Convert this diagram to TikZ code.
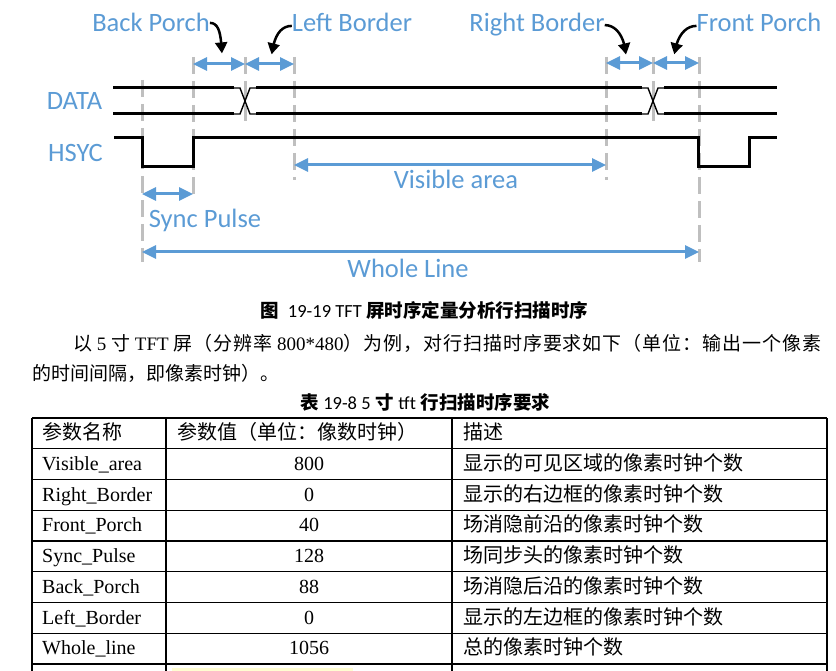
\documentclass[tikz,border=0pt]{standalone}
\usepackage{fontspec}
\setmainfont{Liberation Serif}
\newfontfamily\calibri{Carlito}
\newfontfamily\cjk{Noto Sans CJK SC}
\newfontfamily\cjkspread{Noto Sans CJK SC}[LetterSpace=5]
\usetikzlibrary{arrows.meta,bending}
\definecolor{lblblue}{HTML}{5B9BD5}
\definecolor{tickgray}{HTML}{BFBFBF}
\newcommand{\zh}[1]{{\cjk #1}}
\newcommand{\zhs}[1]{{\cjkspread #1}}
\newcommand{\zhb}[1]{{\cjk\bfseries #1}}

\begin{document}
\begin{tikzpicture}[x=1pt,y=-1pt]
        % Define styles for labels and lines
        \tikzset{
            lbl/.style={font=\calibri\fontsize{26.5}{26.5}\selectfont, text=lblblue, inner sep=0pt, anchor=base},
            signal/.style={line width=3pt, black},
            xover/.style={line width=1.4pt, black},
            tick/.style={tickgray, line width=3pt, dash pattern=on 17pt off 7pt},
            dim/.style={lblblue, line width=3pt, {Triangle[length=14pt,width=13pt]}-{Triangle[length=14pt,width=13pt]}},
            pointer/.style={black, line width=2.5pt, -{Triangle[length=11pt,width=12pt,bend]}},
            txt/.style={font=\fontsize{19}{19}\selectfont, inner sep=0pt, anchor=base west},
            capt/.style={font=\fontsize{18.5}{18.5}\selectfont, inner sep=0pt, anchor=base west},
            cell/.style={font=\fontsize{20}{20}\selectfont, inner sep=0pt, anchor=base west},
            num/.style={font=\fontsize{20}{20}\selectfont, inner sep=0pt, anchor=base},
            grid/.style={black, line width=1.2pt}
        }
        \useasboundingbox (0,0) rectangle (836,671);
        % Timing marks
        \coordinate (t1) at (142,0);
        \coordinate (t2) at (193,0);
        \coordinate (t3) at (245,0);
        \coordinate (t4) at (294,0);
        \coordinate (t5) at (606,0);
        \coordinate (t6) at (653,0);
        \coordinate (t7) at (699,0);
        \draw[tick] (t1 |- 0,80) -- (t1 |- 0,262);
        \draw[tick] (t2 |- 0,57) -- (t2 |- 0,200);
        \draw[tick] (t3 |- 0,57) -- (t3 |- 0,121);
        \draw[tick] (t4 |- 0,57) -- (t4 |- 0,180);
        \draw[tick] (t5 |- 0,57) -- (t5 |- 0,180);
        \draw[tick] (t6 |- 0,57) -- (t6 |- 0,121);
        \draw[tick] (t7 |- 0,57) -- (t7 |- 0,262);
        % DATA bus with crossings
        \foreach \yd in {88,114}
            \draw[signal] (113,\yd) -- (234,\yd) (256,\yd) -- (642,\yd) (664,\yd) -- (777,\yd);
        \foreach \xc in {245,653} {
            \draw[xover] (\xc-12,88) -- (\xc-5,88) -- (\xc+5,114) -- (\xc+12,114);
            \draw[xover] (\xc-12,114) -- (\xc-5,114) -- (\xc+5,88) -- (\xc+12,88);
        }
        % HSYC pulse
        \draw[signal] (114,138) -- (142,138) -- (142,167) -- (193,167) -- (193,138)
            -- (698,138) -- (698,167) -- (749,167) -- (749,138) -- (777,138);
        % Labels
        \node[lbl] (bp) at (151,32) {Back Porch};
        \node[lbl] (lb) at (352,32) {Left Border};
        \node[lbl] (rb) at (537,32) {Right Border};
        \node[lbl] (fp) at (759,32) {Front Porch};
        \node[lbl] (data) at (74.5,110) {DATA};
        \node[lbl] (hsyc) at (75.5,162) {HSYC};
        \node[lbl] (vis) at (456,189) {Visible area};
        \node[lbl] (sync) at (205,228) {Sync Pulse};
        \node[lbl] (whole) at (408,278) {Whole Line};
        % Interval arrows
        \draw[dim] (t2 |- 0,64) -- (t3 |- 0,64);
        \draw[dim] (t3 |- 0,64) -- (t4 |- 0,64);
        \draw[dim] (t5 |- 0,63) -- (t6 |- 0,63);
        \draw[dim] (t6 |- 0,63) -- (t7 |- 0,63);
        \draw[dim] (t4 |- 0,165) -- (t5 |- 0,165);
        \draw[dim] (t1 |- 0,194) -- (t2 |- 0,194);
        \draw[dim] (t1 |- 0,252) -- (t7 |- 0,252);
        % Pointers from labels
        \draw[pointer] (bp.east) .. controls +(10,0) and +(-1,-17) .. +(12,30.5);
        \draw[pointer] ([yshift=-3pt]lb.west) .. controls +(-12,0) and +(2,-17) .. +(-20,28.5);
        \draw[pointer] (rb.east) .. controls +(12,0) and +(-1,-17) .. +(21,29.5);
        \draw[pointer] ([yshift=-3pt]fp.west) .. controls +(-12,0) and +(2,-17) .. +(-22,28.5);
        % Caption and paragraph
        \node[capt] (figcap) at (260,317) {\zhb{图}\ \ {\calibri 19-19 TFT} \zhb{屏时序定量分析行扫描时序}};
        \node[txt] (line1) at (73,350) {\zhs{以} 5 \zhs{寸} TFT \zhs{屏（分辨率} 800*480\zhs{）为例，对行扫描时序要求如下（单位：输出一个像素}};
        \node[txt] (line2) at (32,380) {\zh{的时间间隔，即像素时钟）。}};
        \node[capt] (tabcap) at (300,409) {\zhb{表}\ {\calibri 19-8 5} \zhb{寸} {\calibri tft} \zhb{行扫描时序要求}};
        % Table grid
        \foreach \r in {0,...,8}
            \draw[grid] (32,418+30.75*\r) -- (827,418+30.75*\r);
        \foreach \c in {32,166,452,827}
            \draw[grid] (\c,418) -- (\c,671);
        \fill[yellow!18] (172,668) rectangle (353,671);
        % Table cells
        \node[cell] (h1) at (42,439.5) {\zh{参数名称}};
        \node[cell] (h2) at (177,439.5) {\zh{参数值（单位：像数时钟）}};
        \node[cell] (h3) at (463,439.5) {\zh{描述}};
        \foreach \pname/\pval/\pdesc [count=\r] in {
            Visible\_area/800/显示的可见区域的像素时钟个数,
            Right\_Border/0/显示的右边框的像素时钟个数,
            Front\_Porch/40/场消隐前沿的像素时钟个数,
            Sync\_Pulse/128/场同步头的像素时钟个数,
            Back\_Porch/88/场消隐后沿的像素时钟个数,
            Left\_Border/0/显示的左边框的像素时钟个数,
            Whole\_line/1056/总的像素时钟个数} {
            \node[cell] (name\r) at (42,439.5+30.75*\r) {\pname};
            \node[num] (val\r) at (309,439.5+30.75*\r) {\pval};
            \node[cell] (desc\r) at (463,439.5+30.75*\r) {\zh{\pdesc}};
        }
\end{tikzpicture}
\end{document}
